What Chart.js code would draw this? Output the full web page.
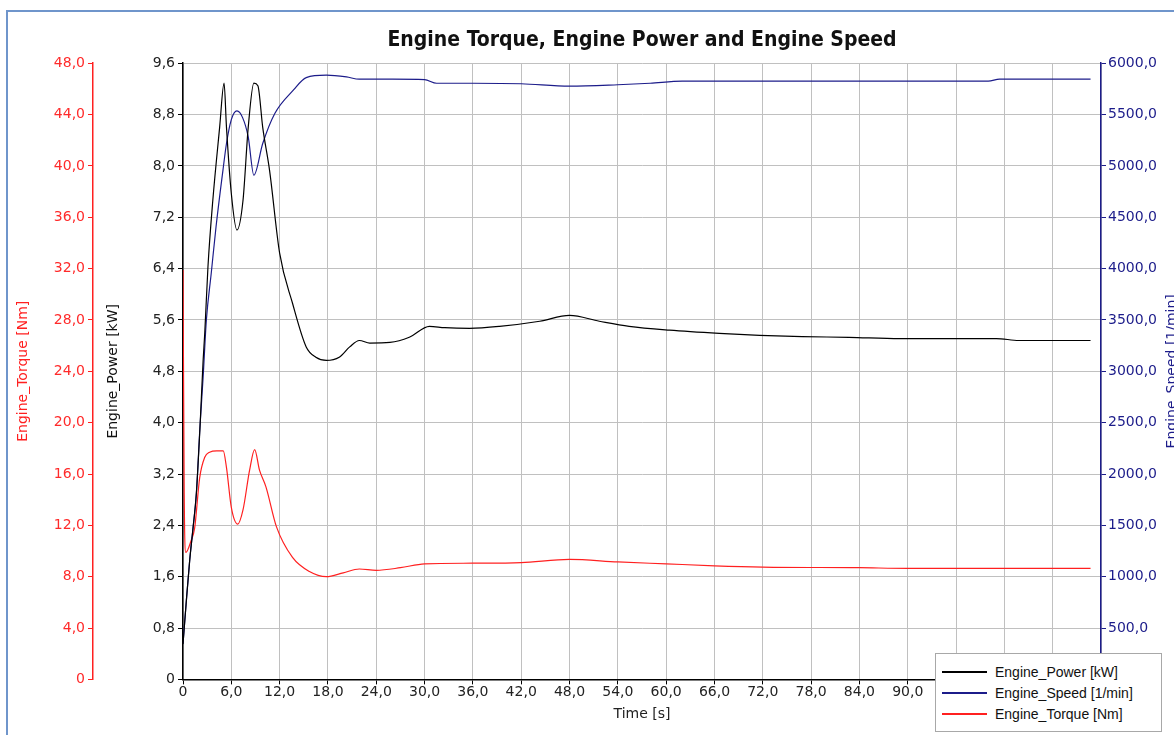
<!DOCTYPE html>
<html>
<head>
<meta charset="utf-8">
<title>Engine Torque, Engine Power and Engine Speed</title>
<script src="https://cdn.jsdelivr.net/npm/chart.js@4.4.0/dist/chart.umd.min.js"></script>
<style>
    body { margin: 0; background: #fff; overflow: hidden; }
    #wrap { position: relative; width: 1174px; height: 735px; }
    #frame { position: absolute; left: 6px; top: 10px; width: 1200px; height: 760px; border: 2px solid #6f95cb; }
    #chartBox { position: absolute; left: 0; top: 0; width: 1174px; height: 735px; }
    #legend { position: absolute; left: 935px; top: 653px; width: 227px; height: 79px; box-sizing: border-box;
              border: 1px solid #a8a8a8; background: #fff; font: 14px 'Liberation Sans', Arial, sans-serif; color: #111; padding-top: 7px; }
    .leg-row { height: 21px; display: flex; align-items: center; }
    .leg-line { width: 45px; height: 2px; margin-left: 6px; margin-right: 8px; }
</style>
</head>
<body>
<div id="wrap">
    <div id="frame"></div>
    <div id="chartBox"><canvas id="engineChart"></canvas></div>
    <div id="legend"></div>
</div>
<script>
// ====== DATA ======
const powerTime = [0, 0.4, 0.83, 1.2, 1.66, 2.1, 2.5, 2.7, 3.1, 3.7, 4.55, 5.1, 5.4, 6.0, 6.7, 7.45, 8.1, 8.8, 9.3, 9.9, 10.75, 12.0, 13.6, 15.3, 16.5, 17.8, 19.4, 20.7, 21.9, 23.2, 25.7, 28.1, 30.6, 32.5, 35.6, 39.3, 44.3, 48.0, 51.7, 55.4, 60.4, 66.6, 71.6, 76.9, 82.7, 89, 96, 101, 103.8, 108, 112.7];
const powerKw = [0.55, 1.2, 1.85, 2.3, 2.9, 3.9, 4.97, 5.39, 6.43, 7.46, 8.6, 9.29, 8.6, 7.57, 7.0, 7.46, 8.6, 9.29, 9.25, 8.6, 7.93, 6.64, 5.86, 5.18, 5.02, 4.97, 5.02, 5.18, 5.28, 5.24, 5.25, 5.33, 5.5, 5.48, 5.47, 5.5, 5.58, 5.67, 5.58, 5.5, 5.44, 5.39, 5.36, 5.34, 5.33, 5.31, 5.31, 5.31, 5.28, 5.28, 5.28];

const speedTime = [0, 0.4, 0.83, 1.25, 1.66, 2.1, 2.5, 2.9, 3.5, 4.1, 4.96, 5.4, 6.0, 6.7, 7.4, 8.1, 8.8, 9.9, 11.4, 13.7, 15.3, 17.8, 20.3, 21.9, 26, 30, 31.5, 36, 42, 48, 54, 58, 62, 70, 80, 90, 100, 101.4, 106, 112.7];
const speedRpm = [350, 750, 1160, 1480, 1810, 2450, 2944, 3497, 3950, 4405, 4957, 5218, 5450, 5535, 5470, 5282, 4909, 5218, 5510, 5737, 5860, 5883, 5866, 5844, 5844, 5840, 5805, 5805, 5800, 5776, 5790, 5805, 5825, 5825, 5825, 5825, 5825, 5844, 5844, 5844];

const torqueTime = [0, 0.15, 0.35, 1.0, 1.45, 2.07, 2.7, 3.3, 4.2, 5.0, 5.4, 6.0, 6.8, 7.45, 8.27, 8.9, 9.5, 10.3, 11.6, 13.6, 15.7, 17.8, 19.9, 21.9, 24, 27, 30, 36, 42, 48, 54, 60, 66, 72, 84, 90, 100, 112.7];
const torqueNm = [31.9, 14.5, 9.9, 10.8, 11.8, 15.7, 17.3, 17.7, 17.8, 17.8, 16.5, 13.4, 12.1, 13.2, 16.3, 17.9, 16.3, 15.0, 11.9, 9.5, 8.4, 8.0, 8.3, 8.6, 8.5, 8.7, 9.0, 9.05, 9.1, 9.35, 9.15, 9.0, 8.85, 8.75, 8.7, 8.65, 8.65, 8.65];

const timeMax = 114;
const timeStep = 6;
const powerMax = 9.6, powerStep = 0.8;
const torqueMax = 48, torqueStep = 4;
const speedMax = 6000, speedStep = 500;

function pairs(xs, ys) {
    return xs.map((x, i) => ({ x: x, y: ys[i] }));
}

// comma decimal, "0" for zero like the original
function fmt(v) {
    if (Math.abs(v) < 1e-9) return '0';
    return v.toFixed(1).replace('.', ',');
}

const tickFont = { family: "'DejaVu Sans', sans-serif", size: 14 };
const titleFont = { family: "'DejaVu Sans', sans-serif", size: 14 };

// right axis title reads bottom-to-top, draw it by hand
const speedTitlePlugin = {
    id: 'speedTitle',
    afterDraw(chart) {
        const ctx = chart.ctx;
        const area = chart.chartArea;
        ctx.save();
        ctx.translate(1172, (area.top + area.bottom) / 2);
        ctx.rotate(-Math.PI / 2);
        ctx.font = "14px 'DejaVu Sans', sans-serif";
        ctx.fillStyle = '#1c1c8a';
        ctx.textAlign = 'center';
        ctx.textBaseline = 'middle';
        ctx.fillText('Engine_Speed [1/min]', 0, 0);
        ctx.restore();
    }
};

document.addEventListener('DOMContentLoaded', function () {
    const ctx = document.getElementById('engineChart').getContext('2d');
    const chart = new Chart(ctx, {
        type: 'line',
        data: {
            datasets: [
                { label: 'Engine_Power [kW]', data: pairs(powerTime, powerKw), yAxisID: 'yPower', borderColor: '#000000', borderWidth: 1.2, pointRadius: 0, cubicInterpolationMode: 'monotone' },
                { label: 'Engine_Speed [1/min]', data: pairs(speedTime, speedRpm), yAxisID: 'ySpeed', borderColor: '#1c1c8a', borderWidth: 1.2, pointRadius: 0, cubicInterpolationMode: 'monotone' },
                { label: 'Engine_Torque [Nm]', data: pairs(torqueTime, torqueNm), yAxisID: 'yTorque', borderColor: '#ff2020', borderWidth: 1.2, pointRadius: 0, cubicInterpolationMode: 'monotone' }
            ]
        },
        options: {
            responsive: true,
            maintainAspectRatio: false,
            animation: false,
            layout: { padding: { top: 0, right: 0, bottom: 12, left: 0 } },
            plugins: {
                legend: { display: false },
                tooltip: { enabled: false },
                title: {
                    display: true,
                    fullSize: false,
                    text: 'Engine Torque, Engine Power and Engine Speed',
                    color: '#111',
                    font: { family: "'Liberation Sans Narrow', 'DejaVu Sans Condensed', sans-serif", size: 21, weight: 'bold' },
                    padding: { top: 28, bottom: 10 }
                }
            },
            scales: {
                x: {
                    type: 'linear', min: 0, max: timeMax,
                    ticks: { stepSize: timeStep, autoSkip: false, maxRotation: 0, color: '#222', font: tickFont, padding: 0, callback: fmt },
                    grid: { color: '#c0c0c0', tickColor: '#000', tickLength: 5 },
                    border: { color: '#000', width: 1.5 },
                    title: { display: true, text: 'Time [s]', color: '#222', font: titleFont, padding: { top: 5, bottom: 0 } }
                },
                yTorque: {
                    position: 'left', weight: 1, min: 0, max: torqueMax,
                    ticks: { stepSize: torqueStep, color: '#ff2a2a', font: tickFont, padding: 3, callback: fmt },
                    grid: { drawOnChartArea: false, tickColor: '#ff2020', tickLength: 5 },
                    border: { color: '#ff2020', width: 1.5 },
                    title: { display: true, text: 'Engine_Torque [Nm]', color: '#ff2020', font: titleFont, padding: { top: 15, bottom: 0 } },
                    afterFit: s => { s.width = 93; }
                },
                yPower: {
                    position: 'left', weight: 0, min: 0, max: powerMax,
                    ticks: { stepSize: powerStep, color: '#222', font: tickFont, padding: 3, callback: fmt },
                    grid: { color: '#c0c0c0', tickColor: '#000', tickLength: 5 },
                    border: { color: '#000', width: 1.5 },
                    title: { display: true, text: 'Engine_Power [kW]', color: '#111', font: titleFont, padding: { top: 12, bottom: 0 } },
                    afterFit: s => { s.width = 90; }
                },
                ySpeed: {
                    position: 'right', min: 0, max: speedMax,
                    ticks: { stepSize: speedStep, color: '#1c1c8a', font: tickFont, padding: 2, callback: fmt },
                    grid: { drawOnChartArea: false, tickColor: '#1c1c8a', tickLength: 5 },
                    border: { color: '#1c1c8a', width: 1.5 },
                    afterFit: s => { s.width = 73; }
                }
            }
        },
        plugins: [speedTitlePlugin]
    });

    // legend box, built from the datasets
    const legend = document.getElementById('legend');
    chart.data.datasets.forEach(ds => {
        const row = document.createElement('div');
        row.className = 'leg-row';
        row.innerHTML = `<span class="leg-line" style="background:${ds.borderColor}"></span><span>${ds.label}</span>`;
        legend.appendChild(row);
    });
});
</script>
</body>
</html>
